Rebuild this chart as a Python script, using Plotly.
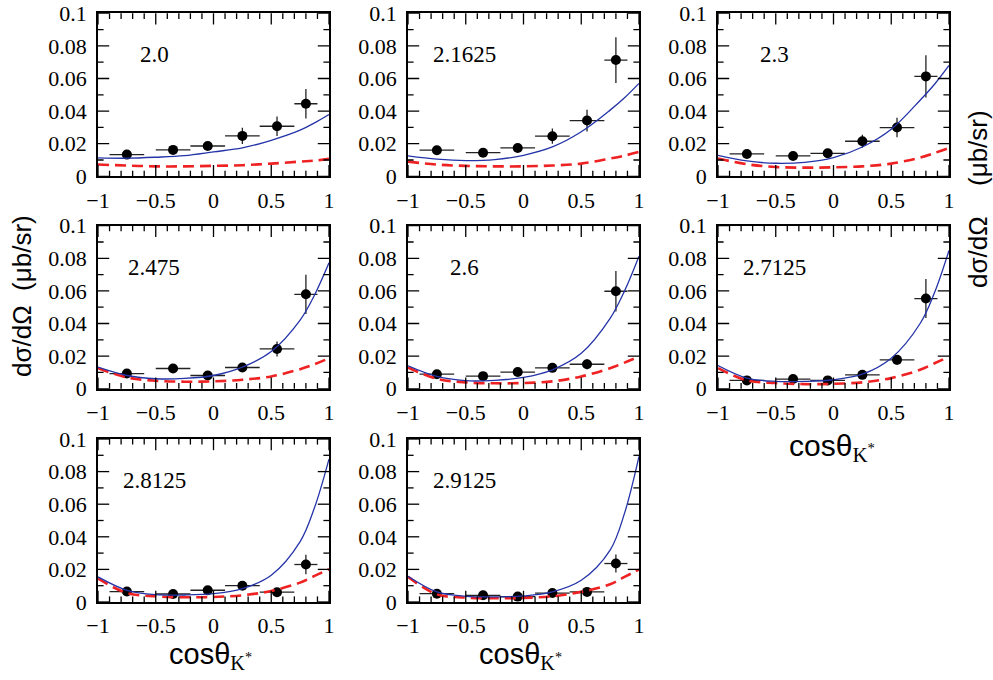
import plotly.graph_objects as go

W, H = 993, 680

# Beam energies (GeV) labelling each panel
ENERGIES = ["2.0", "2.1625", "2.3", "2.475", "2.6", "2.7125", "2.8125", "2.9125"]

# Angular bins of the measurement
BIN_CENTERS = [-0.75, -0.35, -0.05, 0.25, 0.55, 0.80]
BIN_HALF = [0.15, 0.15, 0.15, 0.15, 0.15, 0.10]

# Measured dsigma/dOmega (ub/sr) and statistical errors
DATA_E20 = [0.0133, 0.0162, 0.0186, 0.0248, 0.0307, 0.0445]
DATA_E21625 = [0.0160, 0.0145, 0.0174, 0.0246, 0.0342, 0.0713]
DATA_E23 = [0.0137, 0.0125, 0.0141, 0.0215, 0.0299, 0.0613]
DATA_E2475 = [0.0093, 0.0124, 0.0081, 0.0130, 0.0244, 0.0579]
DATA_E26 = [0.0089, 0.0077, 0.0102, 0.0128, 0.0150, 0.0598]
DATA_E27125 = [0.0051, 0.0059, 0.0051, 0.0085, 0.0177, 0.0553]
DATA_E28125 = [0.0064, 0.0049, 0.0072, 0.0100, 0.0060, 0.0230]
DATA_E29125 = [0.0051, 0.0041, 0.0033, 0.0055, 0.0062, 0.0236]

ERR_E20 = [0.0018, 0.0022, 0.0026, 0.0050, 0.0060, 0.0090]
ERR_E21625 = [0.0020, 0.0020, 0.0022, 0.0047, 0.0067, 0.0140]
ERR_E23 = [0.0020, 0.0020, 0.0020, 0.0040, 0.0060, 0.0130]
ERR_E2475 = [0.0020, 0.0020, 0.0020, 0.0020, 0.0046, 0.0120]
ERR_E26 = [0.0020, 0.0020, 0.0020, 0.0020, 0.0030, 0.0124]
ERR_E27125 = [0.0015, 0.0015, 0.0015, 0.0020, 0.0030, 0.0120]
ERR_E28125 = [0.0015, 0.0015, 0.0015, 0.0020, 0.0020, 0.0060]
ERR_E29125 = [0.0015, 0.0015, 0.0015, 0.0020, 0.0020, 0.0055]

# Model curves sampled in cos(theta)
COS_GRID = [-1.0, -0.75, -0.5, -0.25, 0.0, 0.25, 0.5, 0.75, 0.875, 1.0]

FULL_E20 = [0.0113, 0.0111, 0.0117, 0.0127, 0.0150, 0.0174, 0.0221, 0.0283, 0.0328, 0.0379]
FULL_E21625 = [0.0125, 0.0105, 0.0096, 0.0102, 0.0129, 0.0180, 0.0273, 0.0406, 0.0482, 0.0570]
FULL_E23 = [0.0129, 0.0094, 0.0080, 0.0086, 0.0115, 0.0180, 0.0289, 0.0467, 0.0565, 0.0680]
FULL_E2475 = [0.0132, 0.0081, 0.0061, 0.0063, 0.0081, 0.0132, 0.0228, 0.0421, 0.0575, 0.0772]
FULL_E26 = [0.0140, 0.0075, 0.0049, 0.0051, 0.0069, 0.0116, 0.0217, 0.0431, 0.0600, 0.0813]
FULL_E27125 = [0.0142, 0.0065, 0.0045, 0.0045, 0.0055, 0.0089, 0.0187, 0.0400, 0.0590, 0.0848]
FULL_E28125 = [0.0154, 0.0072, 0.0045, 0.0043, 0.0051, 0.0082, 0.0164, 0.0370, 0.0580, 0.0877]
FULL_E29125 = [0.0158, 0.0062, 0.0035, 0.0031, 0.0037, 0.0062, 0.0133, 0.0318, 0.0545, 0.0893]

BG_E20 = [0.0072, 0.0066, 0.0061, 0.0061, 0.0064, 0.0068, 0.0078, 0.0090, 0.0096, 0.0107]
BG_E21625 = [0.0090, 0.0072, 0.0064, 0.0061, 0.0061, 0.0066, 0.0078, 0.0109, 0.0127, 0.0150]
BG_E23 = [0.0109, 0.0074, 0.0057, 0.0053, 0.0055, 0.0061, 0.0078, 0.0115, 0.0143, 0.0174]
BG_E2475 = [0.0126, 0.0069, 0.0049, 0.0043, 0.0045, 0.0055, 0.0075, 0.0120, 0.0150, 0.0187]
BG_E26 = [0.0130, 0.0061, 0.0039, 0.0033, 0.0035, 0.0045, 0.0075, 0.0126, 0.0160, 0.0197]
BG_E27125 = [0.0126, 0.0051, 0.0035, 0.0028, 0.0030, 0.0039, 0.0065, 0.0116, 0.0156, 0.0197]
BG_E28125 = [0.0144, 0.0055, 0.0035, 0.0029, 0.0031, 0.0041, 0.0068, 0.0119, 0.0160, 0.0201]
BG_E29125 = [0.0154, 0.0047, 0.0027, 0.0023, 0.0025, 0.0035, 0.0062, 0.0109, 0.0154, 0.0199]

DATA = [DATA_E20, DATA_E21625, DATA_E23, DATA_E2475, DATA_E26, DATA_E27125, DATA_E28125, DATA_E29125]
ERRS = [ERR_E20, ERR_E21625, ERR_E23, ERR_E2475, ERR_E26, ERR_E27125, ERR_E28125, ERR_E29125]
FULL = [FULL_E20, FULL_E21625, FULL_E23, FULL_E2475, FULL_E26, FULL_E27125, FULL_E28125, FULL_E29125]
BG = [BG_E20, BG_E21625, BG_E23, BG_E2475, BG_E26, BG_E27125, BG_E28125, BG_E29125]

# Axis ticks
X_TICK_VALUES = [-1.0, -0.5, 0.0, 0.5, 1.0]
X_TICK_LABELS = ["\u22121", "\u22120.5", "0", "0.5", "1"]
X_MINOR_VALUES = [-0.9, -0.8, -0.7, -0.6, -0.4, -0.3, -0.2, -0.1,
                  0.1, 0.2, 0.3, 0.4, 0.6, 0.7, 0.8, 0.9]
Y_TICK_VALUES = [0.0, 0.02, 0.04, 0.06, 0.08, 0.1]
Y_TICK_LABELS = ["0", "0.02", "0.04", "0.06", "0.08", "0.1"]
Y_MINOR_VALUES = [0.01, 0.03, 0.05, 0.07, 0.09]

X_RANGE = [-1, 1]
Y_RANGE = [0, 0.1]

# Panel frames in pixels
COL_LEFT = [98, 408, 718]
ROW_TOP = [13.3, 225.7, 439.0]
PANEL_W = 231
PANEL_H = 163
NPANEL = 8

# tick marks are line symbols centred on the frame edge; the half that
# falls outside the plot area is clipped, leaving an inward tick
MAJOR_SIZE = 16
MINOR_SIZE = 8

SERIF = "Liberation Serif"
SANS = "Liberation Sans"


def axid(letter, k):
    return letter if k == 1 else f"{letter}{k}"


def axkey(letter, k):
    return f"{letter}axis" if k == 1 else f"{letter}axis{k}"


def add_frame_ticks(fig, xa, ya):
    """Inward tick marks on all four edges of one frame."""
    for vals, size in ((X_TICK_VALUES, MAJOR_SIZE), (X_MINOR_VALUES, MINOR_SIZE)):
        fig.add_trace(go.Scatter(
            x=vals + vals,
            y=[Y_RANGE[0]] * len(vals) + [Y_RANGE[1]] * len(vals),
            mode="markers", cliponaxis=True,
            marker=dict(symbol="line-ns", size=size, color="black",
                        line=dict(width=1.3, color="black")),
            xaxis=xa, yaxis=ya, showlegend=False, hoverinfo="skip",
        ))
    for vals, size in ((Y_TICK_VALUES, MAJOR_SIZE), (Y_MINOR_VALUES, MINOR_SIZE)):
        fig.add_trace(go.Scatter(
            x=[X_RANGE[0]] * len(vals) + [X_RANGE[1]] * len(vals),
            y=vals + vals,
            mode="markers", cliponaxis=True,
            marker=dict(symbol="line-ew", size=size, color="black",
                        line=dict(width=1.3, color="black")),
            xaxis=xa, yaxis=ya, showlegend=False, hoverinfo="skip",
        ))


fig = go.Figure()
layout_axes = {}
annotations = []

FRAME = dict(
    showline=True, linecolor="black", linewidth=1.6, mirror=True,
    ticks="", showgrid=False, zeroline=False, automargin=False,
    tickfont=dict(family=SERIF, size=22, color="black"),
)

for i in range(NPANEL):
    row, col = divmod(i, 3)
    n = i + 1
    xa, ya = axid("x", n), axid("y", n)
    left = COL_LEFT[col]
    top = ROW_TOP[row]
    xdom = [left / W, (left + PANEL_W) / W]
    ydom = [1 - (top + PANEL_H) / H, 1 - top / H]

    fig.add_trace(go.Scatter(
        x=BIN_CENTERS, y=DATA[i], mode="markers",
        marker=dict(color="black", size=10),
        error_x=dict(type="data", array=BIN_HALF, color="#222222", thickness=1.3, width=0),
        error_y=dict(type="data", array=ERRS[i], color="#222222", thickness=1.3, width=0),
        xaxis=xa, yaxis=ya, showlegend=False,
    ))
    fig.add_trace(go.Scatter(
        x=COS_GRID, y=BG[i], mode="lines",
        line=dict(color="#ee2222", width=2.6, dash="11px,6px", shape="spline", smoothing=1.0),
        xaxis=xa, yaxis=ya, showlegend=False,
    ))
    fig.add_trace(go.Scatter(
        x=COS_GRID, y=FULL[i], mode="lines",
        line=dict(color="#2434a8", width=1.3, shape="spline", smoothing=1.0),
        xaxis=xa, yaxis=ya, showlegend=False,
    ))
    add_frame_ticks(fig, xa, ya)

    layout_axes[axkey("x", n)] = {
        **FRAME, "domain": xdom, "anchor": ya, "range": X_RANGE,
        "tickmode": "array", "tickvals": X_TICK_VALUES, "ticktext": X_TICK_LABELS,
        "ticklabelstandoff": 3,
    }
    layout_axes[axkey("y", n)] = {
        **FRAME, "domain": ydom, "anchor": xa, "range": Y_RANGE,
        "tickmode": "array", "tickvals": Y_TICK_VALUES, "ticktext": Y_TICK_LABELS,
        "ticklabelstandoff": 5,
    }

    annotations.append(dict(
        x=-0.515, y=0.0745, xref=xa, yref=ya, text=ENERGIES[i], showarrow=False,
        xanchor="center", yanchor="middle",
        font=dict(family=SERIF, size=23, color="black"),
    ))


def cos_title(x_left, y_mid, size=30):
    annotations.append(dict(
        x=x_left / W, y=1 - y_mid / H, xref="paper", yref="paper",
        text="cosθ<sub><span style='font-family:Liberation Serif'>K<sup>*</sup></span></sub>",
        showarrow=False, xanchor="left", yanchor="middle",
        font=dict(family=SANS, size=size, color="black"),
    ))


cos_title(787, 448)
cos_title(167, 656, 29)
cos_title(477, 656, 29)

ytitle_font = dict(family=SANS, size=26, color="black")
annotations.append(dict(
    x=22 / W, y=1 - 296 / H, xref="paper", yref="paper",
    text="dσ/dΩ  (μb/sr)", textangle=-90, showarrow=False,
    xanchor="center", yanchor="middle", font=ytitle_font,
))
annotations.append(dict(
    x=978 / W, y=1 - 252 / H, xref="paper", yref="paper",
    text="dσ/dΩ", textangle=-90, showarrow=False,
    xanchor="center", yanchor="middle", font=ytitle_font,
))
annotations.append(dict(
    x=978 / W, y=1 - 148 / H, xref="paper", yref="paper",
    text="(μb/sr)", textangle=-90, showarrow=False,
    xanchor="center", yanchor="middle", font=ytitle_font,
))

fig.update_layout(
    template="none",
    width=W, height=H,
    margin=dict(l=0, r=0, t=0, b=0),
    paper_bgcolor="white", plot_bgcolor="rgba(0,0,0,0)",
    annotations=annotations,
    **layout_axes,
)

fig.write_html("out.html", config={"displayModeBar": False})
